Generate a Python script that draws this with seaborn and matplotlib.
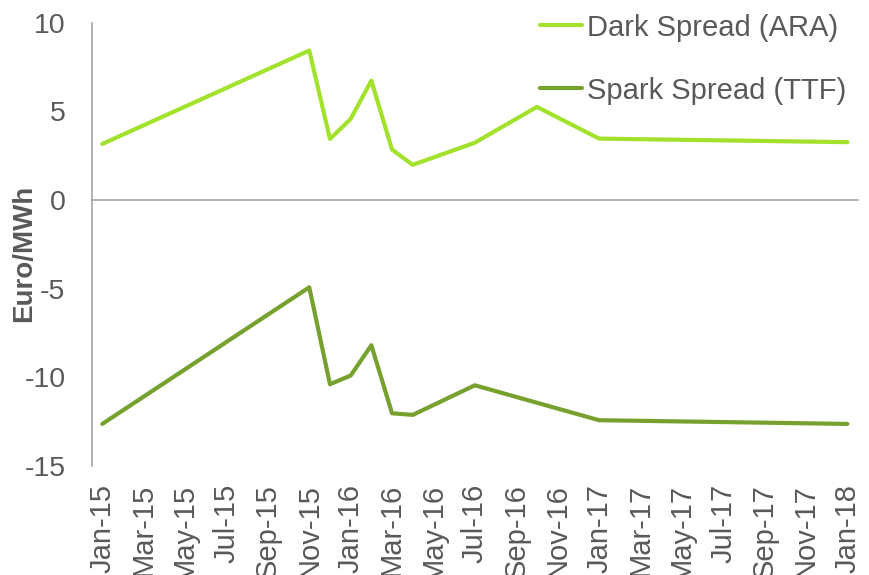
import matplotlib
matplotlib.use("Agg")
import matplotlib.pyplot as plt
import seaborn as sns
import pandas as pd

# Month offsets from Jan-15 and values (Euro/MWh)
dark_months = [0, 10, 11, 12, 13, 14, 15, 18, 21, 24, 36]
dark_values = [3.16, 8.43, 3.44, 4.57, 6.73, 2.84, 1.98, 3.23, 5.25, 3.46, 3.26]

spark_months = [0, 10, 11, 12, 13, 14, 15, 18, 24, 36]
spark_values = [-12.64, -4.93, -10.40, -9.91, -8.20, -12.04, -12.13, -10.46, -12.43, -12.64]

series_names = ["Dark Spread (ARA)", "Spark Spread (TTF)"]
series_colors = ["#A2E22C", "#76A12E"]

tick_labels = ["Jan-15", "Mar-15", "May-15", "Jul-15", "Sep-15", "Nov-15",
               "Jan-16", "Mar-16", "May-16", "Jul-16", "Sep-16", "Nov-16",
               "Jan-17", "Mar-17", "May-17", "Jul-17", "Sep-17", "Nov-17",
               "Jan-18"]

df = pd.concat([
    pd.DataFrame({"month": dark_months, "value": dark_values, "series": series_names[0]}),
    pd.DataFrame({"month": spark_months, "value": spark_values, "series": series_names[1]}),
], ignore_index=True)

sns.set_style("white")
plt.rcParams["font.family"] = ["Liberation Sans", "DejaVu Sans"]

text_color = "#595959"
axis_color = "#A6A6A6"

fig = plt.figure(figsize=(8.7, 5.75), dpi=100)
ax = fig.add_axes([0.1057, 0.19, 0.8802, 0.7705])

sns.lineplot(data=df, x="month", y="value", hue="series",
             palette=dict(zip(series_names, series_colors)),
             linewidth=3, ax=ax, sort=False, estimator=None)

ax.set_xlim(-0.5, 36.5)
ax.set_ylim(-15, 10)

# Spines: y axis on the left, x axis line through zero
for side in ["top", "right"]:
    ax.spines[side].set_visible(False)
ax.spines["left"].set_color(axis_color)
ax.spines["left"].set_linewidth(1.2)
ax.spines["bottom"].set_position(("data", 0))
ax.spines["bottom"].set_color(axis_color)
ax.spines["bottom"].set_linewidth(1.2)

ax.set_yticks([-15, -10, -5, 0, 5, 10])
ax.set_yticklabels(["-15", "-10", "-5", "0", "5", "10"])
ax.tick_params(axis="y", direction="out", length=8, width=1.2, color=axis_color,
               labelsize=20.5, labelcolor=text_color, pad=11)

# Tick marks between the two-month categories, on the zero line
ax.set_xticks([-0.5 + 2 * k for k in range(19)])
ax.set_xticklabels([])
ax.tick_params(axis="x", direction="out", length=8, width=1.2, color=axis_color)

# Date labels along the bottom of the plot area
sec = ax.secondary_xaxis("bottom")
sec.set_xticks(list(range(0, 37, 2)))
sec.set_xticklabels(tick_labels, rotation=90)
sec.tick_params(axis="x", length=0, labelsize=21, labelcolor=text_color, pad=13)
sec.spines["bottom"].set_visible(False)

ax.set_xlabel("")
ax.set_ylabel("Euro/MWh", fontsize=20, fontweight="bold", color=text_color)
ax.yaxis.set_label_coords(-0.071, 0.48)

leg = ax.legend(loc="upper right", bbox_to_anchor=(1.0, 1.047), frameon=False,
                fontsize=21, labelcolor=text_color, handlelength=1.45,
                handletextpad=0.15, labelspacing=1.2, borderaxespad=0)
for line in leg.get_lines():
    line.set_linewidth(3)

fig.savefig("out.png", dpi=100)
